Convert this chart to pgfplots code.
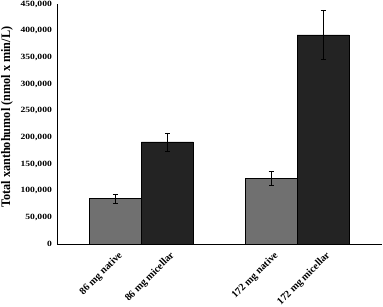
\documentclass[border=0pt]{standalone}
\usepackage{pgfplots}
\pgfplotsset{compat=1.18}
\usepackage{fontspec}
\setmainfont{Liberation Serif}
\newfontfamily\ytickfont[FakeStretch=1.2]{Liberation Serif}
\newfontfamily\ylabfont[FakeStretch=0.94]{Liberation Serif}
\definecolor{nat}{HTML}{707070}
\definecolor{mic}{HTML}{232323}
\begin{document}
\begin{tikzpicture}
\begin{axis}[
  scale only axis,
  width=324pt, height=240pt,
  xmin=-1.125, xmax=5.125,
  ymin=0, ymax=450000,
  axis lines=left,
  axis line style={-, line width=1pt, black},
  ytick={0,50000,...,450000},
  xtick={0,1,3,4},
  xticklabels={86 mg native,86 mg micellar,172 mg native,172 mg micellar},
  major tick length=0pt,
  scaled y ticks=false,
  /pgf/number format/.cd, fixed, 1000 sep={,}, assume math mode=true,
  /pgfplots/.cd,
  yticklabel style={font=\ytickfont\fontsize{8}{10}\selectfont\bfseries, inner sep=1pt, xshift=-4pt},
  xticklabel style={font=\fontsize{10.2}{12}\selectfont\bfseries, rotate=45, anchor=north east, inner sep=1pt, yshift=-5pt, xshift=-2pt},
  ylabel={Total xanthohumol (nmol x min/L)},
  ylabel style={font=\ylabfont\fontsize{13}{15}\selectfont\bfseries, inner sep=1pt, at={(rel axis cs:-0.1327,0.529)}, anchor=south, rotate=0},
  clip=false,
]
\addplot[ybar, bar width=1, fill=nat, draw=black, line width=0.6pt,
  error bars/.cd, y dir=both, y explicit, error bar style={line width=0.6pt, black}, error mark options={rotate=90, mark size=2.5pt, line width=0.6pt}]
  coordinates {(0,85700) +- (0,8000) (3,123000) +- (0,13000)};
\addplot[ybar, bar width=1, fill=mic, draw=black, line width=0.6pt,
  error bars/.cd, y dir=both, y explicit, error bar style={line width=0.6pt, black}, error mark options={rotate=90, mark size=2.5pt, line width=0.6pt}]
  coordinates {(1,191800) +- (0,17000) (4,392000) +- (0,46000)};
\end{axis}
\pgfresetboundingbox
\path[use as bounding box] ([shift={(-57pt,-62pt)}]current axis.south west) rectangle ([shift={(1.5pt,4pt)}]current axis.north east);
\end{tikzpicture}
\end{document}
